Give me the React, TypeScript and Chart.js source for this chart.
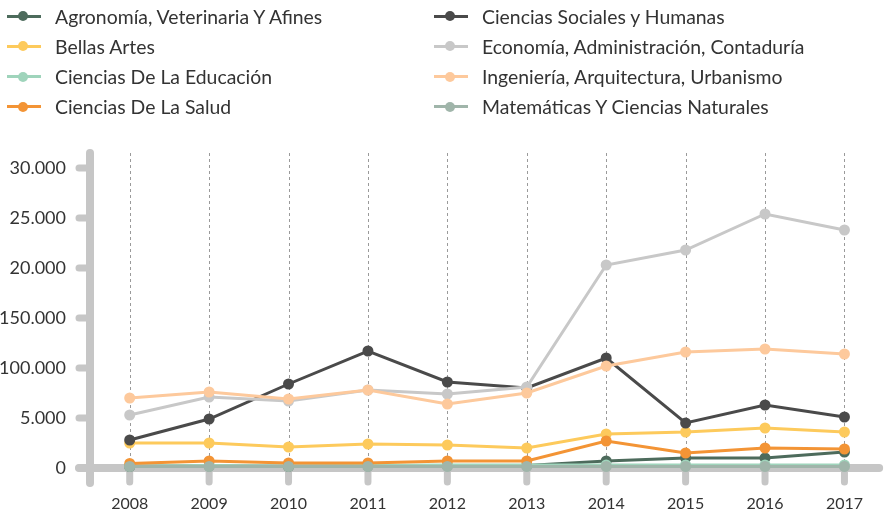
import React, { useEffect, useRef } from "react";
import { Chart, registerables } from "chart.js";

Chart.register(...registerables);

const years = ["2008", "2009", "2010", "2011", "2012", "2013", "2014", "2015", "2016", "2017"];
const yTickLabels = ["0", "5.000", "100.000", "150.000", "20.000", "25.000", "30.000"];

const seriesNames = [
  "Agronomía, Veterinaria Y Afines",
  "Bellas Artes",
  "Ciencias De La Educación",
  "Ciencias De La Salud",
  "Ciencias Sociales y Humanas",
  "Economía, Administración, Contaduría",
  "Ingeniería, Arquitectura, Urbanismo",
  "Matemáticas Y Ciencias Naturales",
];

const agronomia = [150, 200, 150, 200, 250, 250, 700, 1000, 1000, 1600];
const bellasArtes = [2500, 2500, 2100, 2400, 2300, 2000, 3400, 3600, 4000, 3600];
const educacion = [200, 250, 200, 250, 300, 300, 300, 300, 300, 300];
const salud = [450, 700, 500, 500, 700, 700, 2700, 1500, 2000, 1900];
const sociales = [2800, 4900, 8400, 11700, 8600, 8000, 11000, 4500, 6300, 5100];
const economia = [5300, 7100, 6700, 7800, 7400, 8100, 20300, 21800, 25400, 23800];
const ingenieria = [7000, 7600, 6900, 7800, 6400, 7500, 10200, 11600, 11900, 11400];
const matematicas = [150, 150, 150, 150, 150, 150, 150, 150, 150, 150];

const seriesValues = [agronomia, bellasArtes, educacion, salud, sociales, economia, ingenieria, matematicas];
const seriesColors = ["#4d6b5c", "#fdca5c", "#9fd4bb", "#f39435", "#4a4a4a", "#c8c8c8", "#fdc99c", "#a0b5aa"];

const AXIS_COLOR = "#c6c6c6";
const FONT = "Lato, 'Noto Sans', sans-serif";

const axesPlugin = {
  id: "customAxes",
  beforeDatasetsDraw(chart: any) {
    const { ctx, chartArea, scales } = chart;
    const x = scales.x;
    const y = scales.y;
    const zeroY = y.getPixelForValue(0);
    const topY = chartArea.top - 15;
    ctx.save();
    ctx.strokeStyle = "#9a9a9a";
    ctx.lineWidth = 1;
    ctx.setLineDash([3, 3]);
    for (let i = 0; i < years.length; i++) {
      const px = Math.round(x.getPixelForValue(i)) + 0.5;
      ctx.beginPath();
      ctx.moveTo(px, topY);
      ctx.lineTo(px, zeroY);
      ctx.stroke();
    }
    ctx.setLineDash([]);
    ctx.strokeStyle = AXIS_COLOR;
    ctx.lineCap = "round";
    ctx.lineWidth = 7;
    for (let i = 0; i < years.length; i++) {
      const px = x.getPixelForValue(i);
      ctx.beginPath();
      ctx.moveTo(px, zeroY);
      ctx.lineTo(px, zeroY + 14);
      ctx.stroke();
    }
    const axisX = chartArea.left;
    for (let v = 0; v <= 30000; v += 5000) {
      const py = y.getPixelForValue(v);
      ctx.beginPath();
      ctx.moveTo(axisX - 11, py);
      ctx.lineTo(axisX, py);
      ctx.stroke();
    }
    ctx.lineWidth = 8;
    ctx.beginPath();
    ctx.moveTo(axisX, topY);
    ctx.lineTo(axisX, zeroY + 15);
    ctx.stroke();
    ctx.beginPath();
    ctx.moveTo(axisX - 11, zeroY);
    ctx.lineTo(chartArea.right - 5, zeroY);
    ctx.stroke();
    ctx.restore();
  },
};

function Legend() {
  return (
    <>
      {seriesNames.map((name, i) => {
        const col = Math.floor(i / 4);
        const row = i % 4;
        const left = 7 + col * 427;
        const top = 16 + row * 30.3;
        return (
          <div
            key={name}
            style={{
              position: "absolute",
              left,
              top: top - 12,
              height: 24,
              display: "flex",
              alignItems: "center",
              whiteSpace: "nowrap",
            }}
          >
            <div style={{ position: "relative", width: 34, height: 24, marginRight: 14 }}>
              <div
                style={{
                  position: "absolute",
                  left: 0,
                  top: 10.5,
                  width: 34,
                  height: 3,
                  background: seriesColors[i],
                }}
              />
              <div
                style={{
                  position: "absolute",
                  left: 11,
                  top: 7,
                  width: 10,
                  height: 10,
                  borderRadius: "50%",
                  background: seriesColors[i],
                }}
              />
            </div>
            <span style={{ fontFamily: FONT, fontSize: 19.4, color: "#333333" }}>{name}</span>
          </div>
        );
      })}
    </>
  );
}

export default function App() {
  const canvasRef = useRef<HTMLCanvasElement | null>(null);

  useEffect(() => {
    if (!canvasRef.current) return;
    const n = seriesNames.length;
    const chart = new Chart(canvasRef.current, {
      type: "line",
      data: {
        labels: years,
        datasets: seriesNames.map((name, i) => ({
          label: name,
          data: seriesValues[i],
          borderColor: seriesColors[i],
          backgroundColor: seriesColors[i],
          pointBackgroundColor: seriesColors[i],
          pointBorderColor: seriesColors[i],
          borderWidth: 3,
          pointRadius: 5.5,
          pointBorderWidth: 0,
          tension: 0,
          fill: false,
          clip: false,
          order: n - i,
        })),
      },
      options: {
        animation: false,
        responsive: false,
        maintainAspectRatio: false,
        layout: { autoPadding: false, padding: { top: 168, left: 0, right: 0, bottom: 0 } },
        plugins: {
          legend: { display: false },
          tooltip: { enabled: false },
        },
        scales: {
          x: {
            offset: true,
            grid: { display: false, drawTicks: false },
            border: { display: false },
            ticks: {
              padding: 26,
              color: "#333333",
              font: { family: FONT, size: 16 },
              maxRotation: 0,
            },
            afterFit(scale: any) {
              scale.height = 48;
            },
          },
          y: {
            min: 0,
            max: 30000,
            grid: { display: false, drawTicks: false },
            border: { display: false },
            ticks: {
              stepSize: 5000,
              padding: 24,
              color: "#333333",
              font: { family: FONT, size: 18 },
              callback: (value: any) => {
                const idx = Math.round(Number(value) / 5000);
                return yTickLabels[idx] ?? "";
              },
            },
            afterFit(scale: any) {
              scale.width = 90;
            },
          },
        },
      },
      plugins: [axesPlugin],
    });
    return () => chart.destroy();
  }, []);

  return (
    <div style={{ position: "absolute", left: 0, top: 0, width: 889, height: 516, background: "#ffffff" }}>
      <canvas ref={canvasRef} width={889} height={516} style={{ position: "absolute", left: 0, top: 0 }} />
      <Legend />
    </div>
  );
}
